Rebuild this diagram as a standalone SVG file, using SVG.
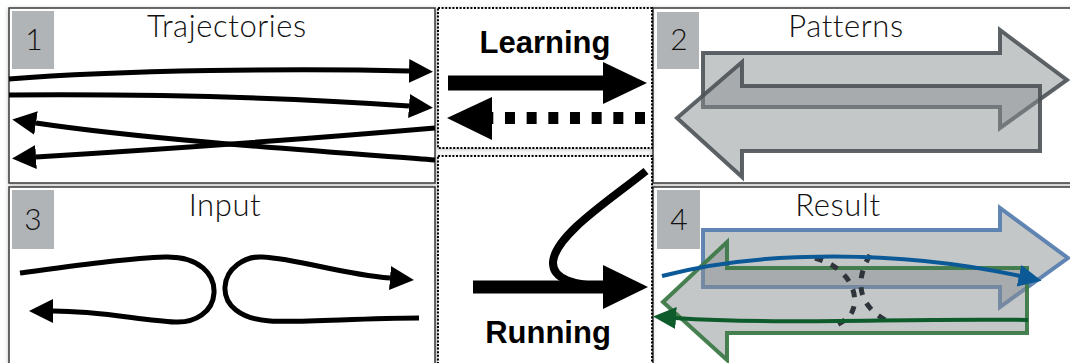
<svg xmlns="http://www.w3.org/2000/svg" width="1070" height="363" viewBox="0 0 1070 363">
  <style>
    .panel { fill: #ffffff; stroke: #3a3a3a; stroke-width: 1.5; }
    .dotbox { fill: #ffffff; stroke: #000000; stroke-width: 2; stroke-dasharray: 2 1.6; }
    .numbox { fill: #b1b4b6; }
    .title { font-family: Lato, "Liberation Sans", sans-serif; font-weight: 300; font-size: 31px; letter-spacing: 0.6px; fill: #111111; text-anchor: middle; }
    .num { font-family: Lato, "Liberation Sans", sans-serif; font-weight: 300; font-size: 30px; fill: #111111; text-anchor: middle; }
    .bold { font-family: "Liberation Sans", Arial, sans-serif; font-weight: bold; font-size: 31px; fill: #000000; text-anchor: middle; }
    .traj { fill: none; stroke: #000000; stroke-width: 5; stroke-linecap: butt; }
    .big { fill: #000000; }
    .pat { fill: #8a9092; fill-opacity: 0.5; stroke-width: 4; stroke-linejoin: miter; }
    .pgray { stroke: #4d5257; stroke-opacity: 0.9; }
    .pblue { stroke: #5a7fb0; stroke-opacity: 0.95; }
    .pgreen { stroke: #3e7a48; stroke-opacity: 0.95; }
    .dash { fill: none; stroke: #2e343a; stroke-width: 5; stroke-dasharray: 8 9; }
  </style>
  <defs>
    <filter id="sh" x="-5%" y="-5%" width="110%" height="110%">
      <feDropShadow dx="0" dy="1" stdDeviation="2" flood-color="#000" flood-opacity="0.25"/>
    </filter>
    <marker id="ah" markerUnits="userSpaceOnUse" markerWidth="24" markerHeight="24" viewBox="0 0 24 24" refX="0" refY="12" orient="auto">
      <path d="M0,0 L24,12 L0,24 Z" fill="#000"/>
    </marker>
    <marker id="ahBlue" markerUnits="userSpaceOnUse" markerWidth="23" markerHeight="22" viewBox="0 0 23 22" refX="1" refY="11" orient="auto">
      <path d="M0,0 L23,11 L0,22 Z" fill="#0b5a97"/>
    </marker>
    <marker id="ahGreen" markerUnits="userSpaceOnUse" markerWidth="23" markerHeight="22" viewBox="0 0 23 22" refX="1" refY="11" orient="auto">
      <path d="M0,0 L23,11 L0,22 Z" fill="#0e5b2c"/>
    </marker>
  </defs>

  <rect width="1070" height="363" fill="#ffffff"/>

  <!-- Panel 1 -->
  <g id="panel1">
    <rect class="panel" x="9" y="8" width="426" height="175" filter="url(#sh)"/>
    <rect class="numbox" x="12" y="11" width="42" height="58"/>
    <text class="num" x="34" y="50">1</text>
    <text class="title" x="227" y="37">Trajectories</text>
  </g>

  <!-- Panel 2 -->
  <g id="panel2">
    <rect class="panel" x="653" y="8" width="422" height="175" filter="url(#sh)"/>
    <rect class="numbox" x="657" y="12" width="42" height="57"/>
    <text class="num" x="679" y="50">2</text>
    <text class="title" x="846" y="37">Patterns</text>
    <polygon class="pat pgray" points="703,53 1000,53 1000,30 1067,80 1000,128 1000,107 703,107"/>
    <polygon class="pat pgray" points="1040,86 742,86 742,62 677,118 742,177 742,151 1040,151"/>
  </g>

  <!-- Panel 3 -->
  <g id="panel3">
    <rect class="panel" x="9" y="187" width="426" height="185" filter="url(#sh)"/>
    <rect class="numbox" x="12" y="190" width="42" height="59"/>
    <text class="num" x="33" y="230">3</text>
    <text class="title" x="225" y="216">Input</text>
  </g>

  <!-- Panel 4 -->
  <g id="panel4">
    <rect class="panel" x="653" y="187" width="422" height="185" filter="url(#sh)"/>
    <rect class="numbox" x="657" y="190" width="43" height="59"/>
    <text class="num" x="679" y="230">4</text>
    <text class="title" x="838" y="216">Result</text>
    <polygon class="pat pblue" points="703,230 1000,230 1000,208 1068,258 1000,307 1000,287 703,287"/>
    <polygon class="pat pgreen" points="1027,268 727,268 727,242 663,302 727,360 727,333 1027,333"/>
  </g>

  <!-- Learning -->
  <g id="learning">
    <rect class="dotbox" x="438" y="8" width="214" height="140" filter="url(#sh)"/>
    <text class="bold" x="545" y="53">Learning</text>
  </g>

  <!-- Running -->
  <g id="running">
    <rect class="dotbox" x="438" y="156" width="214" height="214" filter="url(#sh)"/>
    <text class="bold" x="548" y="343">Running</text>
  </g>

  <!-- Connectors -->
  <g id="connectors">
    <!-- panel 1 trajectories -->
    <path class="traj" d="M9,79 C120,70 300,68 409,71" marker-end="url(#ah)"/>
    <path class="traj" d="M9,95 C150,94 300,98 409,106" marker-end="url(#ah)"/>
    <path class="traj" d="M435,160 C330,152 150,140 36,123" marker-end="url(#ah)"/>
    <path class="traj" d="M435,128 C330,137 150,150 36,157" marker-end="url(#ah)"/>

    <!-- panel 3 input -->
    <path class="traj" d="M20,273 C80,265 130,258 165,257 C200,256 215,275 214,293 C213,312 195,323 175,322 C140,320 100,311 53,311" marker-end="url(#ah)"/>
    <path class="traj" d="M419,318 C360,318 300,323 270,321 C240,319 224,305 225,287 C226,268 245,256 262,257 C300,259 340,274 390,278" marker-end="url(#ah)"/>

    <!-- learning arrows -->
    <line x1="448" y1="83" x2="604" y2="83" stroke="#000" stroke-width="15"/>
    <polygon class="big" points="603,62 647,83 603,104"/>
    <path d="M645,118 L492,118" stroke="#000" stroke-width="12" stroke-dasharray="10 11.67" fill="none"/>
    <polygon class="big" points="447,118 492,97 492,140"/>

    <!-- running arrow -->
    <path d="M646,171 C610,200 555,235 553,262 C552,280 575,285 606,287" fill="none" stroke="#000" stroke-width="8"/>
    <line x1="473" y1="287" x2="604" y2="287" stroke="#000" stroke-width="13"/>
    <polygon class="big" points="603,265 648,287 603,309"/>

    <!-- panel 4 result -->
    <path class="dash" d="M815,258 C850,268 860,295 852,312 C848,320 840,323 833,327"/>
    <path class="dash" d="M870,255 C858,275 857,295 872,310 C878,316 885,320 891,323"/>
    <path d="M662,276 C760,250 900,250 1020,276" fill="none" stroke="#0b5a97" stroke-width="4" marker-end="url(#ahBlue)"/>
    <path d="M1028,320 C900,318 780,325 675,318" fill="none" stroke="#0e5b2c" stroke-width="4" marker-end="url(#ahGreen)"/>
  </g>
</svg>
